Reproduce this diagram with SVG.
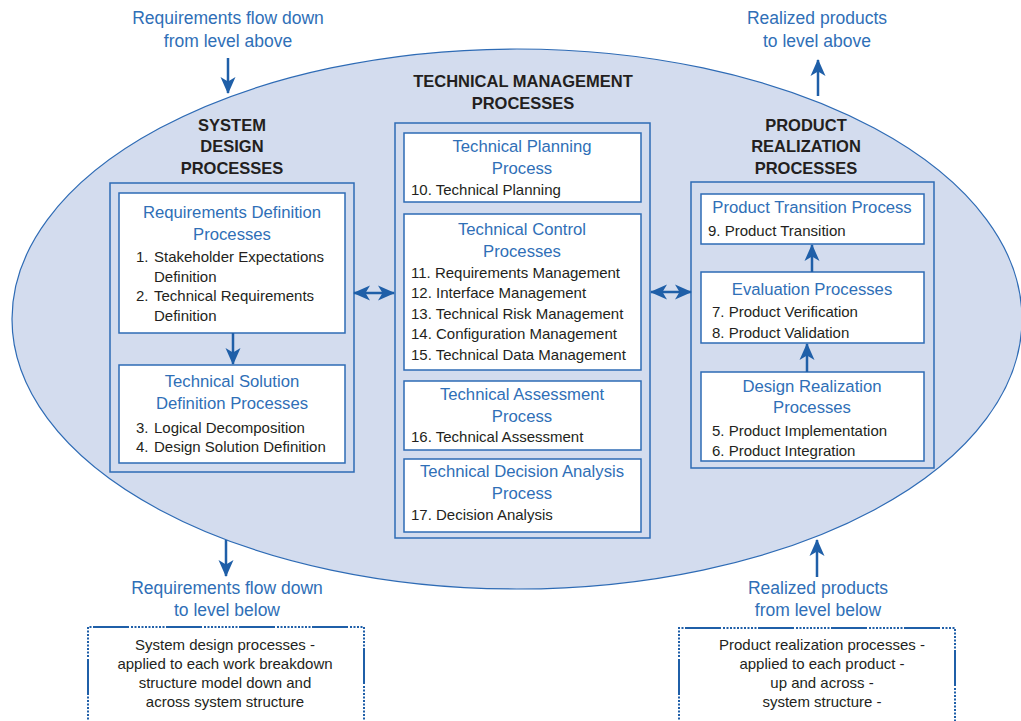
<svg xmlns="http://www.w3.org/2000/svg" width="1021" height="721" viewBox="0 0 1021 721">
<defs>
<style>
.bg{fill:#ffffff}
.ell{fill:#d3dcee;stroke:#2e6bb5;stroke-width:1.2}
.outer{fill:none;stroke:#2e6bb5;stroke-width:1.5}
.box{fill:#ffffff;stroke:#2e6bb5;stroke-width:1.5}
.hdr{font-family:"Liberation Sans",Arial,sans-serif;font-weight:bold;font-size:16.5px;fill:#231f20;text-anchor:middle}
.ttl{font-family:"Liberation Sans",Arial,sans-serif;font-size:16.7px;fill:#2f6fb7;text-anchor:middle}
.itm{font-family:"Liberation Sans",Arial,sans-serif;font-size:15px;fill:#231f20}
.lbl{font-family:"Liberation Sans",Arial,sans-serif;font-size:17.5px;fill:#2f6fb7;text-anchor:middle}
.note{font-family:"Liberation Sans",Arial,sans-serif;font-size:15px;fill:#231f20;text-anchor:middle}
.arr{stroke:#1f5fa8;stroke-width:2.5;fill:none}
.dot{fill:none;stroke:#1f5fa8;stroke-width:2;stroke-dasharray:2 1.5 2 1.5 2 1.5 2 1.5 2 1.5 2 1.5 2 1.5 2 1.5 2 1.5 2 1.5 36 2}
</style>
<marker id="ah" markerUnits="userSpaceOnUse" markerWidth="18" markerHeight="18" viewBox="0 0 18 18" refX="16" refY="9" orient="auto-start-reverse">
<path d="M0,1.5 L17,9 L0,16.5 L4.5,9 Z" fill="#1f5fa8"/>
</marker>
</defs>
<rect class="bg" x="0" y="0" width="1021" height="721"/>
<ellipse id="ellipse" class="ell" cx="517" cy="319" rx="505" ry="270"/>

<g id="labels-top">
<text class="lbl" x="228" y="24">Requirements flow down</text>
<text class="lbl" x="228" y="47">from level above</text>
<text class="lbl" x="817" y="24">Realized products</text>
<text class="lbl" x="817" y="47">to level above</text>
</g>

<g id="system-design">
<text class="hdr" x="232" y="131">SYSTEM</text>
<text class="hdr" x="232" y="152">DESIGN</text>
<text class="hdr" x="232" y="174">PROCESSES</text>
<rect class="outer" x="110" y="183" width="244" height="289"/>
</g>
<g id="req-def">
<rect class="box" x="119" y="193" width="226" height="140"/>
<text class="ttl" x="232" y="218">Requirements Definition</text>
<text class="ttl" x="232" y="240">Processes</text>
<text class="itm" x="136" y="262">1.</text><text class="itm" x="154" y="262">Stakeholder Expectations</text>
<text class="itm" x="154" y="282">Definition</text>
<text class="itm" x="136" y="301">2.</text><text class="itm" x="154" y="301">Technical Requirements</text>
<text class="itm" x="154" y="321">Definition</text>
</g>
<g id="tech-sol">
<rect class="box" x="119" y="365" width="226" height="98"/>
<text class="ttl" x="232" y="387">Technical Solution</text>
<text class="ttl" x="232" y="409">Definition Processes</text>
<text class="itm" x="136" y="433">3.</text><text class="itm" x="154" y="433">Logical Decomposition</text>
<text class="itm" x="136" y="452">4.</text><text class="itm" x="154" y="452">Design Solution Definition</text>
</g>

<g id="tech-mgmt">
<text class="hdr" x="523" y="87">TECHNICAL MANAGEMENT</text>
<text class="hdr" x="523" y="109">PROCESSES</text>
<rect class="outer" x="395" y="123" width="255" height="415"/>
</g>
<g id="tech-planning">
<rect class="box" x="404" y="133" width="237" height="69"/>
<text class="ttl" x="522" y="152">Technical Planning</text>
<text class="ttl" x="522" y="174">Process</text>
<text class="itm" x="411" y="195">10. Technical Planning</text>
</g>
<g id="tech-control">
<rect class="box" x="404" y="214" width="237" height="156"/>
<text class="ttl" x="522" y="235">Technical Control</text>
<text class="ttl" x="522" y="257">Processes</text>
<text class="itm" x="411" y="278">11. Requirements Management</text>
<text class="itm" x="411" y="298">12. Interface Management</text>
<text class="itm" x="411" y="319">13. Technical Risk Management</text>
<text class="itm" x="411" y="339">14. Configuration Management</text>
<text class="itm" x="411" y="360">15. Technical Data Management</text>
</g>
<g id="tech-assess">
<rect class="box" x="404" y="381" width="237" height="69"/>
<text class="ttl" x="522" y="400">Technical Assessment</text>
<text class="ttl" x="522" y="422">Process</text>
<text class="itm" x="411" y="442">16. Technical Assessment</text>
</g>
<g id="tech-decision">
<rect class="box" x="404" y="459" width="237" height="73"/>
<text class="ttl" x="522" y="477">Technical Decision Analysis</text>
<text class="ttl" x="522" y="499">Process</text>
<text class="itm" x="411" y="520">17. Decision Analysis</text>
</g>

<g id="product-realization">
<text class="hdr" x="806" y="131">PRODUCT</text>
<text class="hdr" x="806" y="152">REALIZATION</text>
<text class="hdr" x="806" y="174">PROCESSES</text>
<rect class="outer" x="691" y="182" width="243" height="286"/>
</g>
<g id="prod-transition">
<rect class="box" x="701" y="194" width="223" height="50"/>
<text class="ttl" x="812" y="213">Product Transition Process</text>
<text class="itm" x="708" y="236">9. Product Transition</text>
</g>
<g id="evaluation">
<rect class="box" x="701" y="272" width="223" height="71"/>
<text class="ttl" x="812" y="295">Evaluation Processes</text>
<text class="itm" x="712" y="317">7. Product Verification</text>
<text class="itm" x="712" y="338">8. Product Validation</text>
</g>
<g id="design-realization">
<rect class="box" x="701" y="372" width="223" height="89"/>
<text class="ttl" x="812" y="392">Design Realization</text>
<text class="ttl" x="812" y="413">Processes</text>
<text class="itm" x="712" y="436">5. Product Implementation</text>
<text class="itm" x="712" y="456">6. Product Integration</text>
</g>

<g id="connectors">
<line class="arr" x1="228" y1="58" x2="228" y2="93" marker-end="url(#ah)"/>
<line class="arr" x1="818" y1="96" x2="818" y2="60" marker-end="url(#ah)"/>
<line class="arr" x1="233" y1="333" x2="233" y2="364" marker-end="url(#ah)"/>
<line class="arr" x1="354" y1="293" x2="394" y2="293" marker-start="url(#ah)" marker-end="url(#ah)"/>
<line class="arr" x1="651" y1="292" x2="691" y2="292" marker-start="url(#ah)" marker-end="url(#ah)"/>
<line class="arr" x1="812" y1="272" x2="812" y2="245" marker-end="url(#ah)"/>
<line class="arr" x1="807" y1="372" x2="807" y2="344" marker-end="url(#ah)"/>
<line class="arr" x1="226" y1="540" x2="226" y2="576" marker-end="url(#ah)"/>
<line class="arr" x1="817" y1="577" x2="817" y2="540" marker-end="url(#ah)"/>
</g>

<g id="bottom-left">
<text class="lbl" x="227" y="594">Requirements flow down</text>
<text class="lbl" x="227" y="616">to level below</text>
<path class="dot" d="M88,730 L88,627 L364,627 L364,730"/>
<text class="note" x="225" y="650">System design processes -</text>
<text class="note" x="225" y="669">applied to each work breakdown</text>
<text class="note" x="225" y="688">structure model down and</text>
<text class="note" x="225" y="707">across system structure</text>
</g>
<g id="bottom-right">
<text class="lbl" x="818" y="594">Realized products</text>
<text class="lbl" x="818" y="616">from level below</text>
<path class="dot" d="M679,730 L679,628 L955,628 L955,730"/>
<text class="note" x="822" y="650">Product realization processes -</text>
<text class="note" x="822" y="669">applied to each product -</text>
<text class="note" x="822" y="688">up and across -</text>
<text class="note" x="822" y="707">system structure -</text>
</g>
</svg>
